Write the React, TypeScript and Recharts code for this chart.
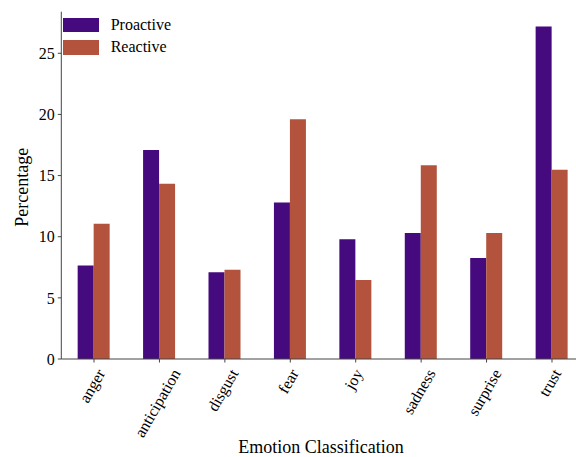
import React from 'react';
import { BarChart, Bar, XAxis, YAxis, Legend } from 'recharts';

const categories = ['anger', 'anticipation', 'disgust', 'fear', 'joy', 'sadness', 'surprise', 'trust'];
const proactive = [7.65, 17.1, 7.1, 12.8, 9.8, 10.3, 8.25, 27.18];
const reactive = [11.07, 14.34, 7.3, 19.6, 6.45, 15.85, 10.3, 15.47];
const yTicks = [0, 5, 10, 15, 20, 25];
const seriesNames = ['Proactive', 'Reactive'];
const seriesColors = ['#440a7e', '#b3533d'];
const xTitle = 'Emotion Classification';
const yTitle = 'Percentage';

const data = categories.map((c, i) => ({ cat: c, proactive: proactive[i], reactive: reactive[i] }));

const FONT = '"Liberation Serif", "Times New Roman", serif';
const AXIS = '#444';

let ctx: CanvasRenderingContext2D | null = null;
function measure(text: string, size: number): number {
  if (!ctx && typeof document !== 'undefined') {
    ctx = document.createElement('canvas').getContext('2d');
  }
  if (!ctx) return text.length * size * 0.45;
  ctx.font = `${size}px "Liberation Serif"`;
  return ctx.measureText(text).width;
}

const RotTick = (props: any) => {
  const { x, y, payload } = props;
  const fs = 16;
  const L = measure(String(payload.value), fs);
  const H = fs * 1.1;
  const rad = (60 * Math.PI) / 180;
  const bh = L * Math.sin(rad) + H * Math.cos(rad);
  const cx = x - 2;
  const cy = y + bh / 2;
  return (
    <text
      x={cx}
      y={cy}
      textAnchor="middle"
      dominantBaseline="central"
      transform={`rotate(-60, ${cx}, ${cy})`}
      fontFamily={FONT}
      fontSize={fs}
      fill="#000"
    >
      {payload.value}
    </text>
  );
};

const LegendBox = () => (
  <div style={{ position: 'relative', width: 200, height: 60, fontFamily: FONT, fontSize: 16, color: '#000' }}>
    {seriesNames.map((n, i) => (
      <React.Fragment key={n}>
        <div
          style={{
            position: 'absolute',
            left: 63.3,
            top: 17.7 + i * 22.3,
            width: 36,
            height: 14.6,
            background: seriesColors[i],
          }}
        />
        <div style={{ position: 'absolute', left: 110.7, top: 15 + i * 22.3, lineHeight: '20px', whiteSpace: 'nowrap' }}>{n}</div>
      </React.Fragment>
    ))}
  </div>
);

export default function App() {
  return (
    <div style={{ position: 'fixed', left: 0, top: 0, width: 576, height: 457, overflow: 'hidden', background: '#fff' }}>
      <BarChart
        width={600}
        height={457}
        data={data}
        margin={{ top: 11.7, right: 15.3, left: 0, bottom: 0 }}
        barCategoryGap="25%"
        barGap={0}
      >
        <XAxis
          dataKey="cat"
          height={98}
          interval={0}
          tickSize={3.5}
          tickMargin={3.5}
          axisLine={{ stroke: AXIS, strokeWidth: 1 }}
          tickLine={{ stroke: AXIS, strokeWidth: 1 }}
          tick={<RotTick />}
          label={(p: any) => {
            const vb = p.viewBox || {};
            return (
              <text x={vb.x + vb.width / 2 - 2} y={453} textAnchor="middle" fontFamily={FONT} fontSize={18} fill="#000">
                {xTitle}
              </text>
            );
          }}
        />
        <XAxis
          xAxisId="top"
          dataKey="cat"
          orientation="top"
          height={0}
          tick={false}
          tickLine={false}
          axisLine={{ stroke: AXIS, strokeWidth: 1 }}
        />
        <YAxis
          width={61.3}
          domain={[0, 28.4]}
          ticks={yTicks}
          interval={0}
          tickSize={3.5}
          tickMargin={3}
          axisLine={{ stroke: AXIS, strokeWidth: 1 }}
          tickLine={{ stroke: AXIS, strokeWidth: 1 }}
          tick={{ fontFamily: FONT, fontSize: 16, fill: '#000' }}
          label={(p: any) => {
            const vb = p.viewBox || {};
            const cy = vb.y + vb.height / 2 + 2;
            return (
              <text x={28} y={cy} transform={`rotate(-90, 28, ${cy})`} textAnchor="middle" fontFamily={FONT} fontSize={18} fill="#000">
                {yTitle}
              </text>
            );
          }}
        />
        <YAxis
          yAxisId="right"
          orientation="right"
          width={0}
          domain={[0, 28.4]}
          tick={false}
          tickLine={false}
          axisLine={{ stroke: AXIS, strokeWidth: 1 }}
        />
        <Legend
          layout="horizontal"
          verticalAlign="middle"
          align="center"
          wrapperStyle={{ left: 0, top: 0, width: 200, height: 60 }}
          content={() => <LegendBox />}
        />
        <Bar dataKey="proactive" name={seriesNames[0]} fill={seriesColors[0]} isAnimationActive={false} />
        <Bar dataKey="reactive" name={seriesNames[1]} fill={seriesColors[1]} isAnimationActive={false} />
      </BarChart>
    </div>
  );
}
